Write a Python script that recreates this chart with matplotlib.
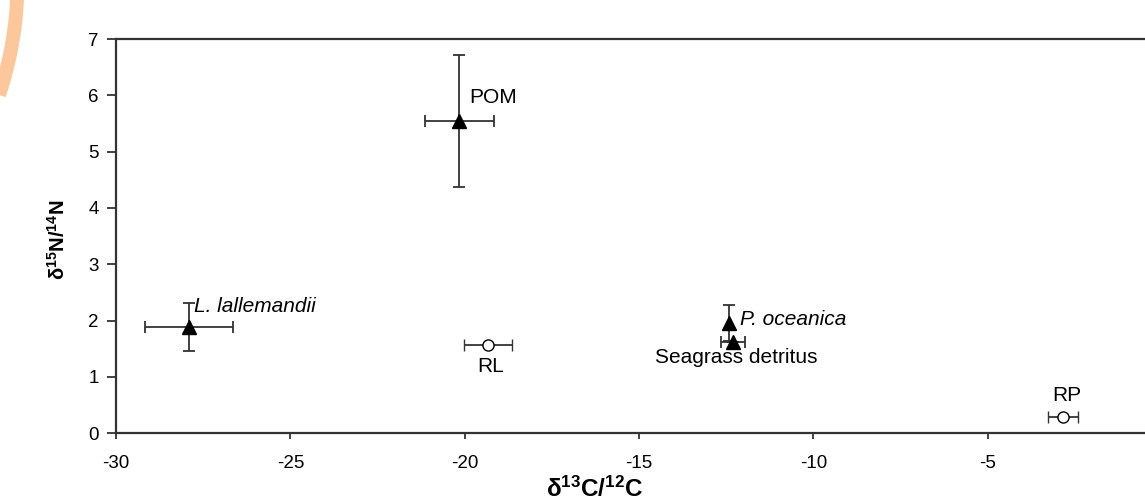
import matplotlib
matplotlib.use("Agg")
import matplotlib.pyplot as plt
from matplotlib.lines import Line2D
import numpy as np

plt.rcParams['font.family'] = ['Liberation Sans', 'DejaVu Sans']
plt.rcParams['mathtext.fontset'] = 'custom'
plt.rcParams['mathtext.rm'] = 'Liberation Sans'
plt.rcParams['mathtext.bf'] = 'Liberation Sans:bold'
plt.rcParams['mathtext.it'] = 'Liberation Sans:italic'
plt.rcParams['axes.unicode_minus'] = False

# 채워진 삼각형: 생물/유기물 시료
tri_names = ["L. lallemandii", "POM", "P. oceanica", "Seagrass detritus"]
tri_x = [-27.9, -20.15, -12.43, -12.31]
tri_y = [1.88, 5.54, 1.95, 1.62]
tri_xerr = [1.26, 1.0, 0.0, 0.35]
tri_yerr = [0.43, 1.17, 0.32, 0.0]

# 빈 원: RL, RP
circ_names = ["RL", "RP"]
circ_x = [-19.33, -2.85]
circ_y = [1.56, 0.29]
circ_xerr = [0.69, 0.43]
circ_yerr = [0.0, 0.0]

xticks = [-30, -25, -20, -15, -10, -5]
yticks = [0, 1, 2, 3, 4, 5, 6, 7]

fig = plt.figure(figsize=(11.45, 5.03), dpi=100)
ax = fig.add_axes([0.1013, 0.139, 0.9135, 0.7833])

ecol = "#333333"
ax.errorbar(tri_x, tri_y, xerr=tri_xerr, yerr=tri_yerr, fmt="^", color="black",
            ms=10, ecolor=ecol, elinewidth=1.3, capsize=4.5, capthick=1.3, zorder=3)
ax.errorbar(circ_x, circ_y, xerr=circ_xerr, yerr=circ_yerr, fmt="o", mfc="white",
            mec="black", mew=1.0, ms=8, ecolor=ecol, elinewidth=1.3, capsize=4.5,
            capthick=1.3, zorder=3)

fs = 15
ax.text(-19.88, 5.96, "POM", fontsize=fs, ha="left", va="center")
ax.text(-27.75, 2.25, "L. lallemandii", fontsize=fs, style="italic", ha="left", va="center")
ax.text(-12.1, 2.02, "P. oceanica", fontsize=fs, style="italic", ha="left", va="center")
ax.text(-12.2, 1.35, "Seagrass detritus", fontsize=fs, ha="center", va="center")
ax.text(-19.25, 1.19, "RL", fontsize=fs, ha="center", va="center")
ax.text(-2.73, 0.67, "RP", fontsize=fs, ha="center", va="center")

ax.set_xlim(-30, 0)
ax.set_ylim(0, 7)
ax.set_xticks(xticks)
ax.set_yticks(yticks)
ax.tick_params(direction="out", width=1.3, color="#333333", labelsize=13.5)
ax.tick_params(axis="x", length=4.5, pad=11)
ax.tick_params(axis="y", length=6.5, pad=6)
for s in ax.spines.values():
    s.set_color("#333333")
    s.set_linewidth(1.6)

ax.set_xlabel(r"$\mathbf{\delta^{13}C/^{12}C}$", fontsize=17.5)
ax.xaxis.label.set_verticalalignment("baseline")
ax.xaxis.set_label_coords(0.458, -0.162)
ax.set_ylabel(r"$\mathbf{\delta^{15}N/^{14}N}$", fontsize=14.5)
ax.yaxis.set_label_coords(-0.045, 0.49)

# 왼쪽 위 슬라이드 장식 곡선
py = np.linspace(-5, 95, 40)
px = 17 - 0.0467 * py - 0.0015 * py ** 2
fig.add_artist(Line2D(px / 1145, (503 - py) / 503, color="#fcc89b", lw=10,
                      transform=fig.transFigure, solid_capstyle="butt"))

fig.savefig("out.png", dpi=100, facecolor="white")
